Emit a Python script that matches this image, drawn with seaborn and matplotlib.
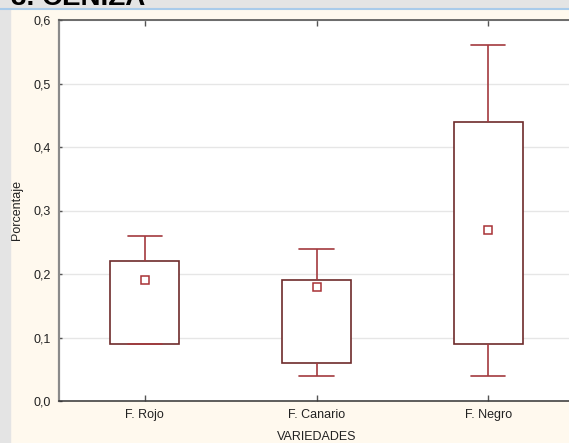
import seaborn as sns
import pandas as pd
import numpy as np
import matplotlib.pyplot as plt
from matplotlib.ticker import FuncFormatter
from matplotlib.patches import Rectangle
from matplotlib.lines import Line2D

# box stats (min, q1, q3, max) and means
categories = ["F. Rojo", "F. Canario", "F. Negro"]
mins = [0.09, 0.04, 0.04]
q1 = [0.09, 0.06, 0.09]
q3 = [0.22, 0.19, 0.44]
maxs = [0.26, 0.24, 0.56]
means = [0.19, 0.18, 0.27]
yticks = [0.0, 0.1, 0.2, 0.3, 0.4, 0.5, 0.6]

rows = []
for i, cat in enumerate(categories):
    for v in [mins[i], q1[i], means[i], q3[i], maxs[i]]:
        rows.append({"VARIEDADES": cat, "Porcentaje": v})
df = pd.DataFrame(rows)

sns.set_style("white")
plt.rcParams['font.family'] = ['Liberation Sans', 'DejaVu Sans']

W, H = 569, 443
fig = plt.figure(figsize=(W / 100, H / 100), dpi=100, facecolor="#FFF9EE")
# window chrome: grey strips and blue line
fig.patches.append(Rectangle((0, 0), 10 / W, 1, transform=fig.transFigure, color="#E4E4E4", zorder=0))
fig.patches.append(Rectangle((0, 1 - 8 / H), 1, 8 / H, transform=fig.transFigure, color="#E4E4E4", zorder=0))
fig.lines.append(Line2D([0, 1], [1 - 8.5 / H, 1 - 8.5 / H], transform=fig.transFigure, color="#A9CBEA", lw=1.5))
# title, mostly scrolled out of view
fig.text(11 / W, 1 - 5 / H, "3. CENIZA", fontsize=20, fontweight="bold", va="baseline", ha="left", color="black")

ax = fig.add_axes([59 / W, 42 / H, (574 - 59) / W, (401 - 20) / H])
ax.set_facecolor("white")

sns.boxplot(data=df, x="VARIEDADES", y="Porcentaje", order=categories, ax=ax,
            whis=np.inf, width=0.4, color="white", linecolor="#6E2B2B", linewidth=1.2,
            medianprops={"linewidth": 0},
            whiskerprops={"color": "#A33A3E"},
            capprops={"color": "#A33A3E"})

sns.pointplot(x=categories, y=means, order=categories, ax=ax, linestyle="none",
              marker="s", markersize=5.5, color="#A83236", markerfacecolor="white",
              markeredgewidth=1.1, errorbar=None, zorder=5)

ax.set_ylim(0, 0.6)
ax.set_xlim(-0.5, 2.5)
ax.set_yticks(yticks)
ax.yaxis.set_major_formatter(FuncFormatter(lambda v, p: f"{v:.1f}".replace(".", ",")))
ax.grid(axis="y", color="#E6E6E6", lw=1)
ax.set_axisbelow(True)

ax.tick_params(axis="x", direction="in", length=4, top=True, bottom=True, width=1,
               color="#555555", labelsize=9, labelcolor="#222222", pad=6)
ax.tick_params(axis="y", direction="in", length=2, left=True, width=1,
               color="#555555", labelsize=9, labelcolor="#222222", pad=6)

ax.spines["left"].set_color("#8A8A8A")
ax.spines["left"].set_linewidth(1.6)
ax.spines["bottom"].set_color("#333333")
ax.spines["bottom"].set_linewidth(1.1)
ax.spines["top"].set_color("#555555")
ax.spines["top"].set_linewidth(1.2)
ax.spines["right"].set_visible(False)

ax.set_xlabel("VARIEDADES", fontsize=9, color="#222222", labelpad=7)
ax.set_ylabel("Porcentaje", fontsize=9, color="#222222")
ax.yaxis.set_label_coords(-0.070, 0.5)

fig.savefig("out.png", dpi=100, facecolor=fig.get_facecolor())
